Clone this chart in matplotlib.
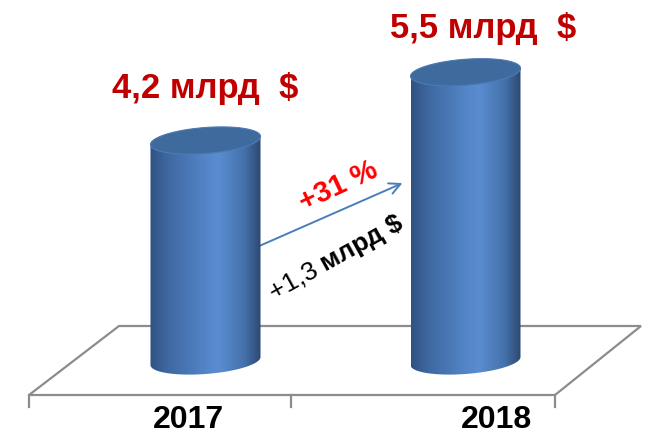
import numpy as np
import matplotlib
matplotlib.use("Agg")
import matplotlib.pyplot as plt
from matplotlib.colors import LinearSegmentedColormap
from matplotlib.patches import Polygon

# data
years = ["2017", "2018"]
values = [4.2, 5.5]           # млрд $
growth_pct = "+31 %"
growth_abs = ("+1,3 ", "млрд $")

W, H = 649, 435
BASE_PX = 362.0        # pixel row of value 0 (centre of bottom ellipse)
PX_PER_UNIT = 52.5
BAR_X_PX = [205.5, 465.5]
PX_PER_CAT = BAR_X_PX[1] - BAR_X_PX[0]
LABEL_OFFSETS = [(0, 22), (13, 16)]   # points, value labels above cylinder tops
YEAR_X_PX = [188, 497]

plt.rcParams["font.family"] = ["Liberation Sans", "DejaVu Sans"]

fig = plt.figure(figsize=(W / 100, H / 100), dpi=100)

# background axes in pixel coordinates (floor, arrow, labels)
bg = fig.add_axes([0, 0, 1, 1])
bg.set_xlim(0, W)
bg.set_ylim(H, 0)
bg.axis("off")

# data axes: x = category index, y = value in млрд $
ax = fig.add_axes([0, 0, 1, 1])
ax.set_xlim(-BAR_X_PX[0] / PX_PER_CAT, (W - BAR_X_PX[0]) / PX_PER_CAT)
ax.set_ylim((BASE_PX - H) / PX_PER_UNIT, BASE_PX / PX_PER_UNIT)
ax.axis("off")
ax.patch.set_alpha(0)

# floor
floor = [(119, 327), (641, 327), (555, 396), (29, 396)]
bg.add_patch(Polygon(floor, closed=True, facecolor="white",
                     edgecolor="#8c8c8c", linewidth=1.6, zorder=1))
for xt in (29, 291, 555):
    bg.plot([xt, xt], [396, 408], color="#8c8c8c", linewidth=1.6, zorder=1)

# cylinders
body_cmap = LinearSegmentedColormap.from_list("cyl", [
    (0.0, "#2f5283"), (0.15, "#3e67a0"), (0.5, "#5385c7"),
    (0.62, "#5a8cd1"), (0.85, "#4572ab"), (1.0, "#2c4872")])
a = 55 / PX_PER_CAT          # half width
b = 13 / PX_PER_UNIT         # ellipse half height
s = 4 / PX_PER_UNIT          # tilt (right side higher)


def ellipse(cx, cy, t):
    return cx + a * np.cos(t), cy + b * np.sin(t) + s * np.cos(t)


for i, v in enumerate(values):
    cx = i
    t_low = np.linspace(np.pi, 2 * np.pi, 80)
    t_up = np.linspace(0, np.pi, 80)
    bx, by = ellipse(cx, 0, t_low)
    tx, ty = ellipse(cx, v, t_up)
    pts = np.column_stack([np.r_[bx, tx], np.r_[by, ty]])
    body = Polygon(pts, closed=True, facecolor="none", edgecolor="none")
    ax.add_patch(body)
    grad = np.linspace(0, 1, 256).reshape(1, -1)
    im = ax.imshow(grad, cmap=body_cmap, aspect="auto",
                   extent=(cx - a, cx + a, -2 * b, v + 2 * b), zorder=3)
    im.set_clip_path(body)

    t_all = np.linspace(0, 2 * np.pi, 160)
    ex, ey = ellipse(cx, v, t_all)
    ax.fill(ex, ey, color="#3f6a9e", zorder=4, linewidth=0.8,
            edgecolor="#4d7bb5")

    label = f"{v:.1f}".replace(".", ",") + " млрд  $"
    ax.annotate(label, (cx, v + b), xytext=LABEL_OFFSETS[i],
                textcoords="offset points", ha="center", va="baseline",
                fontsize=25, fontweight="bold", color="#c00000", zorder=5)

# category labels
for xpx, yr in zip(YEAR_X_PX, years):
    bg.text(xpx, 420, yr, ha="center", va="center", fontsize=23,
            fontweight="bold", color="black")

# growth arrow
bg.annotate("", xy=(405, 183), xytext=(257, 248),
            arrowprops=dict(arrowstyle="->,head_length=0.8,head_width=0.4",
                            color="#4a7ebb", linewidth=1.4), zorder=6)
bg.text(338, 186, growth_pct, rotation=25, ha="center", va="center",
        fontsize=21, fontweight="bold", color="#ff0000", zorder=6)

# "+1,3" regular followed by bold "млрд $" on one rotated baseline
ang = 29
x0, y0 = 274, 300
fs = 19
bg.text(x0, y0, growth_abs[0], rotation=ang, rotation_mode="anchor",
        ha="left", va="baseline", fontsize=fs, color="black", zorder=6)
probe = fig.text(0, 0, growth_abs[0], fontsize=fs)
fig.canvas.draw()
w1 = probe.get_window_extent().width
probe.remove()
rad = np.deg2rad(ang)
bg.text(x0 + w1 * np.cos(rad), y0 - w1 * np.sin(rad), growth_abs[1],
        rotation=ang, rotation_mode="anchor", ha="left", va="baseline",
        fontsize=fs, fontweight="bold", color="black", zorder=6)

fig.savefig("out.png", dpi=100)
